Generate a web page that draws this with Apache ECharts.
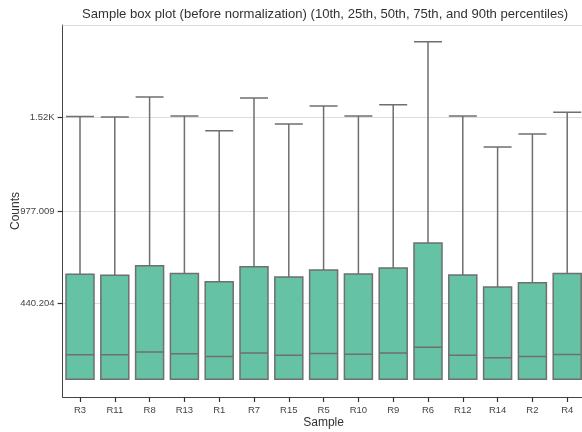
<!DOCTYPE html>
<html>
<head>
<meta charset="utf-8">
<script src="https://cdn.jsdelivr.net/npm/echarts@6/dist/echarts.min.js"></script>
<style>
  html, body { margin: 0; padding: 0; background: #fff; }
  #chart { width: 582px; height: 432px; }
</style>
</head>
<body>
<div id="chart"></div>
<script>
// Samples in plotted order
var samples = ['R3', 'R11', 'R8', 'R13', 'R1', 'R7', 'R15', 'R5', 'R10', 'R9', 'R6', 'R12', 'R14', 'R2', 'R4'];

// Percentiles of counts per sample
var p10 = [0, 0, 0, 0, 0, 0, 0, 0, 0, 0, 0, 0, 0, 0, 0];
var p25 = [0, 0, 0, 0, 0, 0, 0, 0, 0, 0, 0, 0, 0, 0, 0];
var p50 = [143, 143, 159, 148, 132, 153, 139, 149, 145, 153, 186, 139, 125, 132, 144];
var p75 = [610, 604, 660, 614, 567, 654, 594, 635, 612, 647, 792, 606, 536, 561, 614];
var p90 = [1527, 1524, 1640, 1530, 1443, 1634, 1483, 1588, 1530, 1595, 1960, 1530, 1350, 1425, 1551];

// Y axis tick values and their labels
var yTicks = [440.204, 977.009, 1520];
var yTickLabels = ['440.204', '977.009', '1.52K'];
var yMin = -103;
var yMax = 2058;

var boxData = samples.map(function (s, i) {
  return [p10[i], p25[i], p50[i], p75[i], p90[i]];
});

var chart = echarts.init(document.getElementById('chart'));

var font = 'Liberation Sans, Arial, Helvetica, sans-serif';

chart.setOption({
  animation: false,
  backgroundColor: '#ffffff',
  title: {
    text: 'Sample box plot (before normalization) (10th, 25th, 50th, 75th, and 90th percentiles)',
    left: 77,
    top: 3,
    textStyle: { fontFamily: font, fontSize: 13.1, fontWeight: 'normal', color: '#333333' }
  },
  grid: { left: 62.6, top: 25, width: 522, height: 372, containLabel: false, outerBoundsMode: 'none' },
  xAxis: {
    type: 'category',
    data: samples,
    name: 'Sample',
    nameLocation: 'middle',
    nameGap: 20,
    nameMoveOverlap: false,
    nameTextStyle: { fontFamily: font, fontSize: 12, color: '#333333' },
    axisLine: { show: true, onZero: false, lineStyle: { color: '#444444', width: 1 } },
    axisTick: { show: true, alignWithLabel: true, length: 5, lineStyle: { color: '#333333', width: 1.2 } },
    axisLabel: { fontFamily: font, fontSize: 9.5, color: '#444444', margin: 8 },
    splitLine: { show: false }
  },
  yAxis: {
    type: 'value',
    min: yMin,
    max: yMax,
    name: 'Counts',
    nameLocation: 'middle',
    nameGap: 41,
    nameMoveOverlap: false,
    nameTextStyle: { fontFamily: font, fontSize: 12, color: '#333333' },
    axisLine: { show: true, onZero: false, lineStyle: { color: '#444444', width: 1 } },
    axisTick: { show: true, length: 5, customValues: yTicks, lineStyle: { color: '#333333', width: 1.2 } },
    axisLabel: {
      fontFamily: font, fontSize: 9.5, color: '#444444', margin: 8,
      customValues: yTicks,
      formatter: function (v) {
        var idx = yTicks.indexOf(v);
        return idx >= 0 ? yTickLabels[idx] : '';
      }
    },
    splitLine: { show: true, customValues: yTicks, lineStyle: { color: '#dddddd', width: 1 } }
  },
  series: [{
    type: 'boxplot',
    data: boxData,
    boxWidth: [28, 28],
    itemStyle: { color: '#66c2a5', borderColor: '#6f6f6f', borderWidth: 1.5 },
    emphasis: { disabled: true },
    markLine: {
      silent: true,
      symbol: 'none',
      label: { show: false },
      lineStyle: { color: '#dddddd', width: 1, type: 'solid' },
      data: [{ yAxis: yMax }]
    }
  }]
});
</script>
</body>
</html>
